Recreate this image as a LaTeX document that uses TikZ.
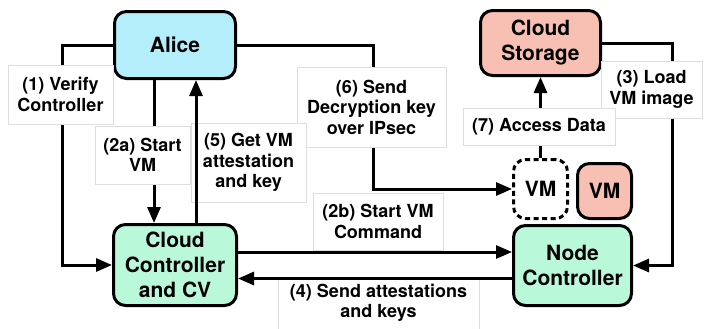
\documentclass[tikz,border=0pt]{standalone}
\usepackage{fontspec}
\setmainfont{TeX Gyre Heros}
\usetikzlibrary{arrows.meta,calc}
\definecolor{alicefill}{RGB}{180,238,250}
\definecolor{ctrlfill}{RGB}{186,248,218}
\definecolor{storefill}{RGB}{248,192,178}
\definecolor{labelrule}{RGB}{222,222,222}
\begin{document}
\begin{tikzpicture}[x=1bp,y=-1bp,
  box/.style={draw=black,line width=3bp,rounded corners=12bp,align=center,
    inner sep=0pt,font=\fontsize{21bp}{25bp}\selectfont\bfseries},
  steplabel/.style={draw=labelrule,fill=white,line width=0.8bp,align=center,
    inner sep=0pt,font=\fontsize{18bp}{20.5bp}\selectfont\bfseries},
  flow/.style={line width=3bp,-{Triangle[length=16bp,width=13bp]}},
  plain/.style={line width=3bp}]
\useasboundingbox (0,0) rectangle (707,328);

% main parties
\node[box,fill=alicefill,minimum width=121bp,minimum height=67bp] (alice) at (175,45) {Alice};
\node[box,fill=ctrlfill,minimum width=123bp,minimum height=81bp] (cc) at (175,265) {Cloud\\Controller\\and CV};
\node[box,fill=storefill,minimum width=120bp,minimum height=65bp] (store) at (540.5,43) {Cloud\\Storage};
\node[box,fill=ctrlfill,minimum width=118bp,minimum height=80bp] (nc) at (572.5,265.5) {Node\\Controller};
\node[box,dashed,dash pattern=on 5bp off 3.5bp,minimum width=54bp,minimum height=59bp] (vmd) at (540.5,189) {VM};
\node[box,fill=storefill,minimum width=54bp,minimum height=55bp] (vmr) at (604.5,191) {VM};

% connectors that run behind their labels
\draw[flow] (alice.west) -- ++(-51,0) |- (cc.west);
\draw[flow] ([xshift=-21bp]alice.south) -- ([xshift=-21bp]cc.north);
\draw[flow] (alice.east) -- ++(136,0) |- (vmd.west);
\draw[flow] (store.east) -- ++(70,0) |- (nc.east);
\draw[flow] (vmd.north) -- (store.south);

% step labels
\node[steplabel,minimum width=105bp,minimum height=59bp] (l1) at (60.5,94.5) {(1) Verify\\Controller};
\node[steplabel,minimum width=149bp,minimum height=80bp] (l6) at (371.5,107) {(6) Send\\Decryption key\\over IPsec};
\node[steplabel,minimum width=115bp,minimum height=79bp] (l5) at (248.5,162.5) {(5) Get VM\\attestation\\and key};
\node[steplabel,minimum width=95bp,minimum height=58bp] (l2a) at (142.5,155) {(2a) Start\\VM};
\node[steplabel,minimum width=130bp,minimum height=57bp] (l2b) at (378,221.5) {(2b) Start VM\\Command};
\node[steplabel,minimum width=201bp,minimum height=52bp] (l4) at (378.5,303) {(4) Send attestations\\and keys};
\node[steplabel,minimum width=101bp,minimum height=57bp] (l3) at (651.5,89.5) {(3) Load\\VM image};
\node[steplabel,minimum width=152bp,minimum height=37bp] (l7) at (539,126.5) {(7) Access Data};

% connectors drawn over the labels
\draw[flow] ([xshift=21bp]cc.north) -- ([xshift=21bp]alice.south);
\draw[flow] ([yshift=13bp]cc.east) -- ([yshift=13bp]cc.east -| nc.west);
\draw[flow] ([yshift=-13bp]nc.west) -- ([yshift=-13bp]nc.west -| cc.east);
\end{tikzpicture}
\end{document}
